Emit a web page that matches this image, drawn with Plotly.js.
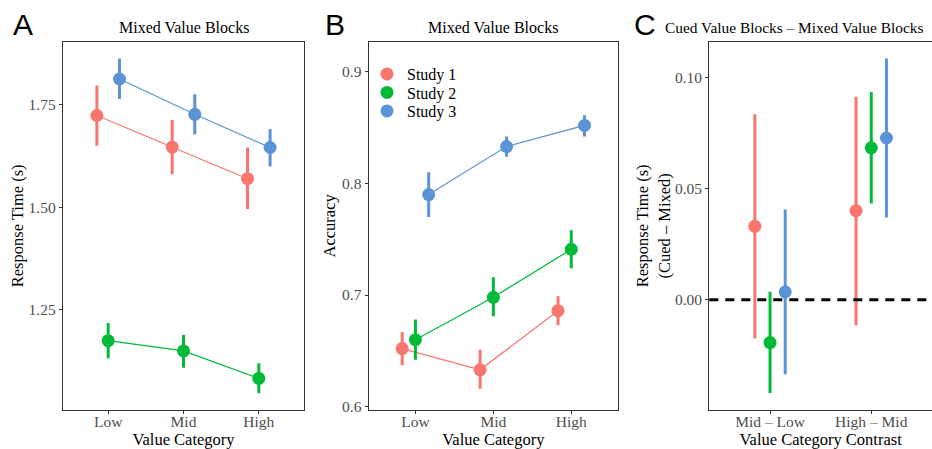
<!DOCTYPE html>
<html>
<head>
<meta charset="utf-8">
<script src="https://cdn.plot.ly/plotly-3.0.1.min.js"></script>
<style>html,body{margin:0;padding:0;background:#fff;}#chart{width:932px;height:449px;}</style>
</head>
<body>
<div id="chart"></div>
<script>
// ---- Data ----
const studies = ["Study 1", "Study 2", "Study 3"];
const colors = ["#F8766D", "#00BA38", "#5B94D4"];
const valueCategories = ["Low", "Mid", "High"];
const contrastCategories = ["Mid \u2013 Low", "High \u2013 Mid"];

// Panel A: response time (s), mixed value blocks
const rtMean = [[1.724, 1.647, 1.570], [1.175, 1.150, 1.083], [1.813, 1.727, 1.646]];
const rtLow  = [[1.650, 1.581, 1.496], [1.132, 1.109, 1.047], [1.764, 1.678, 1.600]];
const rtHigh = [[1.797, 1.713, 1.646], [1.218, 1.189, 1.120], [1.863, 1.776, 1.691]];

// Panel B: accuracy, mixed value blocks
const accMean = [[0.652, 0.633, 0.686], [0.660, 0.698, 0.741], [0.790, 0.833, 0.852]];
const accLow  = [[0.637, 0.616, 0.673], [0.642, 0.681, 0.724], [0.770, 0.824, 0.842]];
const accHigh = [[0.667, 0.651, 0.699], [0.678, 0.716, 0.758], [0.810, 0.842, 0.861]];

// Panel C: RT difference (cued - mixed)
const diffMean = [[0.0330, 0.0400], [-0.0193, 0.0683], [0.0035, 0.0727]];
const diffLow  = [[-0.0174, -0.0115], [-0.0420, 0.0433], [-0.0335, 0.0370]];
const diffHigh = [[0.0834, 0.0913], [0.0036, 0.0934], [0.0406, 0.1084]];

const rtTicks = [1.25, 1.50, 1.75];
const rtTickText = ["1.25", "1.50", "1.75"];
const accTicks = [0.6, 0.7, 0.8, 0.9];
const accTickText = ["0.6", "0.7", "0.8", "0.9"];
const diffTicks = [0.00, 0.05, 0.10];
const diffTickText = ["0.00", "0.05", "0.10"];

// ---- Build ----
const serif = "Liberation Serif, Times New Roman, serif";
const sans = "Liberation Sans, Arial, sans-serif";
const tickFont = {family: serif, size: 15.5, color: "#4D4D4D"};
const titleFont = {family: serif, size: 16.5, color: "#000"};

function panelTraces(means, lows, highs, ncat, dodge, xa, ya, withLines) {
  const out = [];
  for (let s = 0; s < studies.length; s++) {
    const xs = [], up = [], dn = [];
    for (let c = 0; c < ncat; c++) {
      xs.push(c + 1 + (s - 1) * dodge);
      up.push(highs[s][c] - means[s][c]);
      dn.push(means[s][c] - lows[s][c]);
    }
    out.push({
      type: "scatter",
      mode: withLines ? "lines+markers" : "markers",
      x: xs, y: means[s], xaxis: xa, yaxis: ya,
      showlegend: false,
      line: {color: colors[s], width: 1.2},
      marker: {color: colors[s], size: 13},
      error_y: {type: "data", symmetric: false, array: up, arrayminus: dn,
                color: colors[s], thickness: 3, width: 0},
      hoverinfo: "skip"
    });
  }
  return out;
}

let data = [];
data = data.concat(panelTraces(rtMean, rtLow, rtHigh, 3, 0.15, "x", "y", true));
data = data.concat(panelTraces(accMean, accLow, accHigh, 3, 0.17, "x2", "y2", true));
data = data.concat(panelTraces(diffMean, diffLow, diffHigh, 2, 0.15, "x3", "y3", false));
// legend entries (one legend per study so row spacing can match the reference)
const legendIds = ["legend", "legend2", "legend3"];
for (let s = 0; s < studies.length; s++) {
  data.push({type: "scatter", mode: "markers", x: [null], y: [null], xaxis: "x2", yaxis: "y2",
    name: studies[s], showlegend: true, legend: legendIds[s], marker: {color: colors[s], size: 13}});
}

const W = 932, H = 449;
const yDom = [1 - 410 / H, 1 - 41.7 / H];
function xAxis(dom, range, cats, mirror) {
  return {
    domain: dom, range: range, tickmode: "array",
    tickvals: cats.map((_, i) => i + 1), ticktext: cats,
    showgrid: false, zeroline: false, showline: true, mirror: mirror,
    linecolor: "#333", linewidth: 1.2, ticks: "outside", ticklen: 3, tickcolor: "#333",
    tickfont: tickFont, fixedrange: true, ticklabelstandoff: -6
  };
}
function yAxis(anchor, range, tv, tt, mirror, title, standoff) {
  return {
    anchor: anchor, domain: yDom, range: range, tickmode: "array", tickvals: tv, ticktext: tt,
    showgrid: false, zeroline: false, showline: true, mirror: mirror,
    linecolor: "#333", linewidth: 1.2, ticks: "outside", ticklen: 3, tickcolor: "#333",
    tickfont: tickFont, fixedrange: true,
    title: {text: title, font: titleFont, standoff: standoff}
  };
}

function legendAt(yPx) {
  return {x: 367 / W, xanchor: "left", y: 1 - yPx / H, yanchor: "middle", bgcolor: "rgba(0,0,0,0)",
          font: {family: serif, size: 16, color: "#000"}, itemsizing: "trace"};
}

const layout = {
  width: W, height: H,
  margin: {l: 0, r: 0, t: 0, b: 0},
  paper_bgcolor: "#fff", plot_bgcolor: "#fff",
  showlegend: true,
  legend: legendAt(74),
  legend2: legendAt(92.5),
  legend3: legendAt(111),
  xaxis: Object.assign(xAxis([63 / W, 304 / W], [0.4, 3.6], valueCategories, true),
    {anchor: "y", title: {text: "Value Category", font: titleFont, standoff: 4}}),
  yaxis: yAxis("x", [1.006, 1.904], rtTicks, rtTickText, true, "Response Time (s)", 0),
  xaxis2: Object.assign(xAxis([368.7 / W, 618 / W], [0.4, 3.6], valueCategories, true),
    {anchor: "y2", title: {text: "Value Category", font: titleFont, standoff: 4}}),
  yaxis2: yAxis("x2", [0.597, 0.927], accTicks, accTickText, true, "Accuracy", 2),
  xaxis3: Object.assign(xAxis([709.3 / W, 1], [0.4, 2.6], contrastCategories, true),
    {anchor: "y3", title: {text: "Value Category Contrast", font: titleFont, standoff: 4}}),
  yaxis3: yAxis("x3", [-0.0496, 0.116], diffTicks, diffTickText, false,
    "Response Time (s)<br>(Cued \u2013 Mixed)", 0),
  shapes: [{type: "line", xref: "x3 domain", x0: 0, x1: 1, yref: "y3", y0: 0, y1: 0,
            line: {color: "#000", width: 3, dash: "9px,7px"}}],
  annotations: [
    {text: "A", x: 11 / W, y: 1 - 6 / H, xref: "paper", yref: "paper", xanchor: "left", yanchor: "top",
     showarrow: false, font: {family: sans, size: 30, color: "#000"}},
    {text: "B", x: 323 / W, y: 1 - 6 / H, xref: "paper", yref: "paper", xanchor: "left", yanchor: "top",
     showarrow: false, font: {family: sans, size: 30, color: "#000"}},
    {text: "C", x: 632 / W, y: 1 - 6 / H, xref: "paper", yref: "paper", xanchor: "left", yanchor: "top",
     showarrow: false, font: {family: sans, size: 30, color: "#000"}},
    {text: "Mixed Value Blocks", x: 183.5 / W, y: 1 - 27 / H, xref: "paper", yref: "paper",
     xanchor: "center", yanchor: "middle", showarrow: false, font: {family: serif, size: 16, color: "#000"}},
    {text: "Mixed Value Blocks", x: 493.3 / W, y: 1 - 27 / H, xref: "paper", yref: "paper",
     xanchor: "center", yanchor: "middle", showarrow: false, font: {family: serif, size: 16, color: "#000"}},
    {text: "Cued Value Blocks \u2013 Mixed Value Blocks", x: 663 / W, y: 1 - 27 / H, xref: "paper", yref: "paper",
     xanchor: "left", yanchor: "middle", showarrow: false, font: {family: serif, size: 15.4, color: "#000"}}
  ]
};

Plotly.newPlot("chart", data, layout, {displayModeBar: false, staticPlot: true});
</script>
</body>
</html>
